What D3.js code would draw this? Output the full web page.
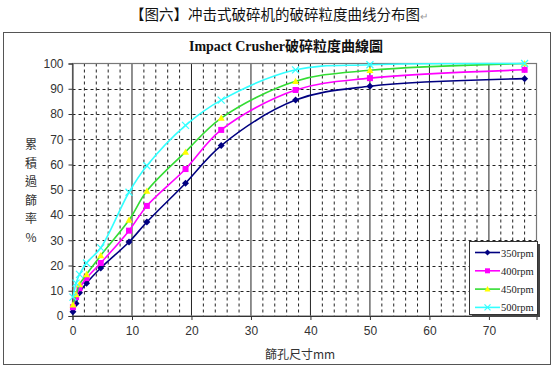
<!DOCTYPE html>
<html>
<head>
<meta charset="utf-8">
<title>Impact Crusher</title>
<script src="https://d3js.org/d3.v7.min.js"></script>
<style>
body { margin: 0; background: #fff; }
svg { display: block; }
</style>
</head>
<body>
<div id="chart"></div>
<script>
// sieve sizes (mm) and passing % per rotor speed
var sieve = [0.075, 0.6, 1.18, 2.36, 4.75, 9.5, 12.5, 19, 25, 37.5, 50, 76];
var rpm350 = [1.7, 5, 9.2, 13, 19, 29.3, 37.2, 52.6, 67.5, 85.5, 91, 94];
var rpm400 = [3.5, 7.5, 11, 15, 21, 33.8, 43.6, 58.2, 73.7, 89.5, 94.2, 97.5];
var rpm450 = [4.5, 8.5, 12.5, 16.5, 24, 38, 49.5, 65, 78.4, 93, 97.3, 100];
var rpm500 = [7.5, 13, 16.5, 21, 27, 49, 59.5, 75.5, 85.5, 97.5, 99.5, 100];
var seriesNames = ["350rpm", "400rpm", "450rpm", "500rpm"];
var xTicks = [0, 10, 20, 30, 40, 50, 60, 70];
var yTicks = [0, 10, 20, 30, 40, 50, 60, 70, 80, 90, 100];

var W = 554, H = 370;
var svg = d3.select("#chart").append("svg").attr("width", W).attr("height", H);

// caption above the chart
svg.append("text").attr("x", 275).attr("y", 20).attr("text-anchor", "middle")
  .style("font-family", "'Noto Sans CJK SC'").style("font-size", "14.5px").attr("fill", "#111")
  .text("【图六】冲击式破碎机的破碎粒度曲线分布图");
svg.append("text").attr("x", 420).attr("y", 20)
  .style("font-size", "10px").attr("fill", "#999").text("↵");

// chart border
svg.append("rect").attr("x", 3.5).attr("y", 32.5).attr("width", 547).attr("height", 332)
  .attr("fill", "#fff").attr("stroke", "#555").attr("stroke-width", 1);

svg.append("text").attr("x", 286).attr("y", 51).attr("text-anchor", "middle")
  .style("font-family", "'Liberation Serif', 'Noto Sans CJK TC'").style("font-weight", "bold")
  .style("font-size", "14px").attr("fill", "#111")
  .text("Impact Crusher破碎粒度曲線圖");

var m = { l: 72.5, r: 536.5, t: 63.5, b: 316 };
var x = d3.scaleLinear().domain([0, 78]).range([m.l, m.r]);
var y = d3.scaleLinear().domain([0, 100]).range([m.b, m.t]);

var g = svg.append("g");

// minor vertical dashed grid
g.selectAll(".vminor").data(d3.range(2, 78, 2).filter(function(d) { return d % 10 != 0; }))
  .enter().append("line")
  .attr("x1", function(d) { return x(d); }).attr("x2", function(d) { return x(d); })
  .attr("y1", m.t).attr("y2", m.b)
  .attr("stroke", "#222").attr("stroke-width", 1).attr("stroke-dasharray", "3,3");
// major vertical solid grid
g.selectAll(".vmajor").data(xTicks.slice(1)).enter().append("line")
  .attr("x1", function(d) { return x(d); }).attr("x2", function(d) { return x(d); })
  .attr("y1", m.t).attr("y2", m.b)
  .attr("stroke", "#222").attr("stroke-width", 1);
// horizontal dashed grid
g.selectAll(".hgrid").data(yTicks.slice(1, -1)).enter().append("line")
  .attr("x1", m.l).attr("x2", m.r)
  .attr("y1", function(d) { return Math.round(y(d)) + 0.5; })
  .attr("y2", function(d) { return Math.round(y(d)) + 0.5; })
  .attr("stroke", "#222").attr("stroke-width", 1).attr("stroke-dasharray", "3,3");

// plot frame
g.append("rect").attr("x", m.l).attr("y", m.t).attr("width", m.r - m.l).attr("height", m.b - m.t)
  .attr("fill", "none").attr("stroke", "#777").attr("stroke-width", 1.2);

// axes
var xAxis = d3.axisBottom(x).tickValues(xTicks).tickSize(4).tickPadding(6);
var yAxis = d3.axisLeft(y).tickValues(yTicks).tickSize(4).tickPadding(5);
var gx = svg.append("g").attr("transform", "translate(0," + m.b + ")").call(xAxis);
var gy = svg.append("g").attr("transform", "translate(" + m.l + ",0)").call(yAxis);
[gx, gy].forEach(function(a) {
  a.select(".domain").attr("stroke", "#333");
  a.selectAll("line").attr("stroke", "#333");
  a.selectAll("text").style("font-family", "'Liberation Sans', Arial").style("font-size", "12px").attr("fill", "#333");
});

// axis titles
var yTitle = "累積過篩率%".split("");
svg.selectAll(".ytitle").data(yTitle).enter().append("text")
  .attr("x", 31).attr("y", function(d, i) { return 149 + i * 18.5; })
  .attr("text-anchor", "middle")
  .style("font-family", "'Noto Sans CJK TC'").style("font-size", "12px").attr("fill", "#333")
  .text(function(d) { return d; });
svg.append("text").attr("x", 265).attr("y", 359)
  .style("font-family", "'Noto Sans CJK TC'").style("font-size", "12px").attr("fill", "#333")
  .text("篩孔尺寸mm");

// series
var colors = ["#000080", "#ff00ff", "#33dd33", "#33ffff"];
var markerColors = ["#000080", "#ff00ff", "#ffff00", "#33ffff"];
var data = [rpm350, rpm400, rpm450, rpm500];
var line = d3.line().curve(d3.curveCatmullRom.alpha(0.5))
  .x(function(d) { return x(d[0]); }).y(function(d) { return y(d[1]); });

function marker(sel, i, cx, cy, s) {
  if (i == 0) {
    sel.append("path").attr("d", "M" + cx + "," + (cy - s) + "L" + (cx + s) + "," + cy + "L" + cx + "," + (cy + s) + "L" + (cx - s) + "," + cy + "Z")
      .attr("fill", markerColors[i]);
  } else if (i == 1) {
    sel.append("rect").attr("x", cx - s + 0.5).attr("y", cy - s + 0.5).attr("width", 2 * s - 1).attr("height", 2 * s - 1)
      .attr("fill", markerColors[i]);
  } else if (i == 2) {
    sel.append("path").attr("d", "M" + cx + "," + (cy - s) + "L" + (cx + s) + "," + (cy + s * 0.8) + "L" + (cx - s) + "," + (cy + s * 0.8) + "Z")
      .attr("fill", markerColors[i]);
  } else {
    sel.append("path").attr("d", "M" + (cx - s) + "," + (cy - s) + "L" + (cx + s) + "," + (cy + s) + "M" + (cx + s) + "," + (cy - s) + "L" + (cx - s) + "," + (cy + s))
      .attr("stroke", markerColors[i]).attr("stroke-width", 1.2);
  }
}

data.forEach(function(vals, i) {
  var pts = sieve.map(function(s, k) { return [s, vals[k]]; });
  var sg = svg.append("g");
  sg.append("path").datum(pts).attr("d", line)
    .attr("fill", "none").attr("stroke", colors[i]).attr("stroke-width", 1.6);
  pts.forEach(function(p) { marker(sg, i, x(p[0]), y(p[1]), 3.5); });
});

// legend
var lg = svg.append("g");
lg.append("rect").attr("x", 472).attr("y", 244).attr("width", 68).attr("height", 73).attr("fill", "#444");
lg.append("rect").attr("x", 469.5).attr("y", 241.5).attr("width", 68).attr("height", 73)
  .attr("fill", "#fff").attr("stroke", "#333").attr("stroke-width", 1);
seriesNames.forEach(function(name, i) {
  var ly = 252.5 + i * 18.3;
  lg.append("line").attr("x1", 475).attr("x2", 500).attr("y1", ly).attr("y2", ly)
    .attr("stroke", colors[i]).attr("stroke-width", 1.6);
  marker(lg, i, 487.5, ly, 3);
  lg.append("text").attr("x", 501).attr("y", ly + 4)
    .style("font-family", "'Liberation Serif'").style("font-size", "10.5px").attr("fill", "#222")
    .text(name);
});
</script>
</body>
</html>
